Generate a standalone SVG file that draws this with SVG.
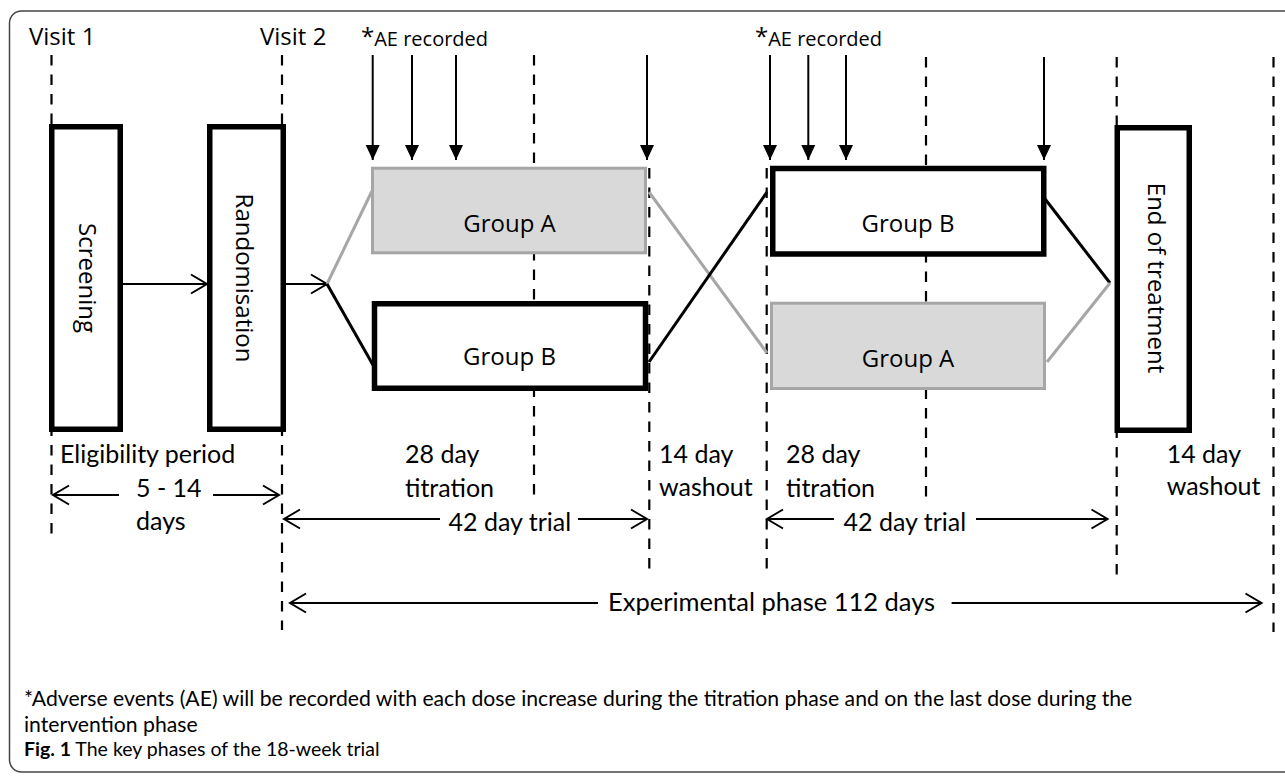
<svg xmlns="http://www.w3.org/2000/svg" width="1285" height="776" viewBox="0 0 1285 776">
<defs>
<style>
.t{font-family:"Open Sans","DejaVu Sans",sans-serif;fill:#000}
.c{font-family:Lato,"Liberation Sans",sans-serif;fill:#000}
.dash{stroke:#000;stroke-width:2.2;stroke-dasharray:10.5 9;fill:none}
.box{fill:#fff;stroke:#000;stroke-width:5.5}
.grey{fill:#d9d9d9;stroke:#a6a6a6;stroke-width:3}
.ae{stroke:#000;stroke-width:2;fill:none}
.arr{stroke:#000;stroke-width:2;fill:none}
.lb{stroke:#000;stroke-width:3;fill:none}
.lg{stroke:#a6a6a6;stroke-width:3;fill:none}
</style>
<marker id="tri" markerUnits="userSpaceOnUse" markerWidth="16" markerHeight="16" refX="15" refY="7" orient="auto" overflow="visible">
<path d="M0,0 L15,7 L0,14 z" fill="#000"/>
</marker>
<marker id="chev" markerUnits="userSpaceOnUse" markerWidth="20" markerHeight="22" refX="16" refY="9.5" orient="auto" overflow="visible">
<path d="M0,0 L16,9.5 L0,19" fill="none" stroke="#000" stroke-width="2"/>
</marker>
</defs>
<rect x="0" y="0" width="1285" height="776" fill="#fff"/>
<rect x="9.5" y="11" width="1300" height="761" rx="12" fill="none" stroke="#444" stroke-width="1.5"/>

<g id="gridlines">
<line class="dash" x1="51.5" y1="55" x2="51.5" y2="537"/>
<line class="dash" x1="282" y1="55" x2="282" y2="630"/>
<line class="dash" x1="534" y1="55" x2="534" y2="502"/>
<line class="dash" x1="649.3" y1="168" x2="649.3" y2="573"/>
<line class="dash" x1="766.7" y1="168" x2="766.7" y2="572"/>
<line class="dash" x1="926" y1="57" x2="926" y2="498"/>
<line class="dash" x1="1116.7" y1="57" x2="1116.7" y2="580"/>
<line class="dash" x1="1273.5" y1="57" x2="1273.5" y2="632"/>
</g>

<g id="labels-top">
<text class="t" x="29" y="45" font-size="24">Visit 1</text>
<text class="t" x="260" y="45" font-size="24">Visit 2</text>
<text class="t" x="361" y="46" font-size="20"><tspan font-size="24" dy="-1">*</tspan><tspan dy="1">AE recorded</tspan></text>
<text class="t" x="755" y="46" font-size="20"><tspan font-size="24" dy="-1">*</tspan><tspan dy="1">AE recorded</tspan></text>
</g>

<g id="connectors">
<line class="ae" x1="372.7" y1="55" x2="372.7" y2="160" marker-end="url(#tri)"/>
<line class="ae" x1="412" y1="55" x2="412" y2="160" marker-end="url(#tri)"/>
<line class="ae" x1="456" y1="55" x2="456" y2="160" marker-end="url(#tri)"/>
<line class="ae" x1="647" y1="55" x2="647" y2="160" marker-end="url(#tri)"/>
<line class="ae" x1="770" y1="55" x2="770" y2="160" marker-end="url(#tri)"/>
<line class="ae" x1="808.3" y1="55" x2="808.3" y2="160" marker-end="url(#tri)"/>
<line class="ae" x1="846" y1="55" x2="846" y2="160" marker-end="url(#tri)"/>
<line class="ae" x1="1044" y1="57" x2="1044" y2="160" marker-end="url(#tri)"/>
<line class="arr" x1="123" y1="284" x2="207" y2="284" marker-end="url(#chev)"/>
<line class="arr" x1="286" y1="284" x2="327" y2="284" marker-end="url(#chev)"/>
<line class="lg" x1="327" y1="284" x2="372" y2="191"/>
<line class="lb" x1="327" y1="284" x2="373" y2="365"/>
<line class="lg" x1="649" y1="192" x2="767" y2="353"/>
<line class="lb" x1="649" y1="362" x2="767" y2="192"/>
<line class="lb" x1="1042" y1="195" x2="1110" y2="283"/>
<line class="lg" x1="1047" y1="362" x2="1110" y2="283"/>
</g>

<g id="screening">
<rect class="box" x="51.75" y="126.75" width="68.5" height="302.5"/>
<text class="t" font-size="24" text-anchor="middle" transform="translate(79,278) rotate(90)">Screening</text>
</g>
<g id="randomisation">
<rect class="box" x="209.75" y="126.75" width="73.5" height="302.5"/>
<text class="t" font-size="24" text-anchor="middle" transform="translate(236,278) rotate(90)">Randomisation</text>
</g>
<g id="groupA1">
<rect class="grey" x="372.5" y="168.2" width="273" height="84.6"/>
<text class="t" x="509.5" y="231.7" font-size="24" text-anchor="middle">Group A</text>
</g>
<g id="groupB1">
<rect class="box" x="374.5" y="303.75" width="271" height="84.5"/>
<text class="t" x="509.5" y="365" font-size="24" text-anchor="middle">Group B</text>
</g>
<g id="groupB2">
<rect class="box" x="772.75" y="168.5" width="271" height="85.5"/>
<text class="t" x="908" y="231.7" font-size="24" text-anchor="middle">Group B</text>
</g>
<g id="groupA2">
<rect class="grey" x="771.5" y="303.2" width="273" height="85.3"/>
<text class="t" x="908" y="366.7" font-size="24" text-anchor="middle">Group A</text>
</g>
<g id="end-of-treatment">
<rect class="box" x="1117.25" y="127.75" width="72" height="302.5"/>
<text class="t" font-size="24" text-anchor="middle" transform="translate(1148,278) rotate(90)">End of treatment</text>
</g>

<g id="timeline">
<text class="c" x="60" y="463" font-size="25">Eligibility period</text>
<line class="arr" x1="119" y1="495" x2="53" y2="495" marker-end="url(#chev)"/>
<text class="c" x="136" y="497" font-size="25">5 - 14</text>
<line class="arr" x1="213" y1="495" x2="279" y2="495" marker-end="url(#chev)"/>
<text class="c" x="136" y="530" font-size="25">days</text>
<text class="c" x="405" y="463" font-size="25">28 day</text>
<text class="c" x="405" y="497" font-size="25">titration</text>
<line class="arr" x1="440" y1="519" x2="284" y2="519" marker-end="url(#chev)"/>
<text class="c" x="448.5" y="531" font-size="25">42 day trial</text>
<line class="arr" x1="578" y1="519" x2="647" y2="519" marker-end="url(#chev)"/>
<text class="c" x="659" y="463" font-size="25">14 day</text>
<text class="c" x="659" y="496" font-size="25">washout</text>
<text class="c" x="786" y="463" font-size="25">28 day</text>
<text class="c" x="786" y="497" font-size="25">titration</text>
<line class="arr" x1="834" y1="519" x2="767" y2="519" marker-end="url(#chev)"/>
<text class="c" x="843.5" y="531" font-size="25">42 day trial</text>
<line class="arr" x1="976" y1="519" x2="1107.5" y2="519" marker-end="url(#chev)"/>
<text class="c" x="1166.7" y="463" font-size="25">14 day</text>
<text class="c" x="1166.7" y="495" font-size="25">washout</text>
<line class="arr" x1="598" y1="603" x2="290" y2="603" marker-end="url(#chev)"/>
<text class="c" x="608" y="611" font-size="25.5">Experimental phase 112 days</text>
<line class="arr" x1="951.6" y1="603" x2="1261.5" y2="603" marker-end="url(#chev)"/>
</g>

<g id="footnote">
<text class="c" x="24" y="706" font-size="21.2">*Adverse events (AE) will be recorded with each dose increase during the titration phase and on the last dose during the</text>
<text class="c" x="24" y="732" font-size="21.2">intervention phase</text>
<text class="c" x="24" y="756" font-size="19.5" fill="#231f20"><tspan font-weight="bold">Fig. 1</tspan> The key phases of the 18-week trial</text>
</g>
</svg>
